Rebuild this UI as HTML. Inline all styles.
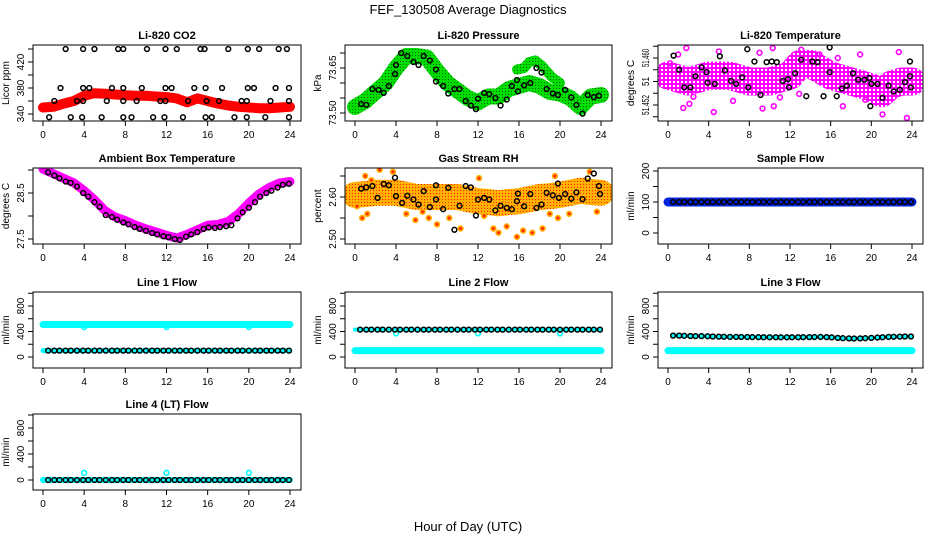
<!DOCTYPE html>
<html><head><meta charset="utf-8"><style>
body{margin:0;background:#fff;}
svg{display:block;font-family:"Liberation Sans",sans-serif;}
</style></head><body>
<svg id="chart" width="936" height="540" viewBox="0 0 936 540">
<defs>
<pattern id="pgreen" width="3" height="3" patternUnits="userSpaceOnUse"><rect width="3" height="3" fill="#00dd00"/><rect x="1" y="1" width="1" height="1" fill="#006600"/></pattern>
<pattern id="porange" width="3" height="3" patternUnits="userSpaceOnUse"><rect width="3" height="3" fill="#ffb000"/><rect x="1" y="1" width="1" height="1" fill="#ff2000"/></pattern>
<pattern id="pmag" width="4" height="4" patternUnits="userSpaceOnUse"><rect width="4" height="4" fill="#ff00ff"/><rect x="1" y="1" width="2" height="2" fill="#ffffff"/></pattern>
</defs>
<text x="468" y="14" text-anchor="middle" font-size="13">FEF_130508  Average Diagnostics</text>
<text x="468" y="531" text-anchor="middle" font-size="13">Hour of Day (UTC)</text>
</svg>
<script>
// ---- data ----
const xTicks = [0,4,8,12,16,20,24];
const co2Hours = [2.2,3.9,5.0,7.3,7.8,10.1,11.9,13.0,15.3,15.7,18.0,19.9,21.0,22.9,23.7,1.7,3.9,4.5,6.7,7.8,9.6,11.9,12.5,14.7,15.8,17.4,19.9,20.5,22.6,23.9,1.1,3.3,3.9,6.2,7.8,9.1,11.4,11.9,14.1,15.9,17.1,19.3,19.8,22.1,23.9,0.6,2.7,3.8,5.7,7.8,8.6,10.7,11.8,13.6,15.8,16.4,18.6,19.8,21.6,23.9];
const co2Values = [440,440,440,440,440,440,440,440,440,440,440,440,440,440,440,380,380,380,380,380,380,380,380,380,380,380,380,380,380,380,360,360,360,360,360,360,360,360,360,360,360,360,360,360,360,335,335,335,335,335,335,335,335,335,335,335,335,335,335,335];
const bandHours = [0,1,2,3,4,5,6,7,8,9,10,11,12,13,14,15,16,17,18,19,20,21,22,23,24];
const co2Band = [350,351,356,360,368,372,371,370,369,368,368,367,366,364,358,364,360,356,353,351,350,349,349,350,351];
const pressBand = [73.52,73.54,73.57,73.60,73.65,73.69,73.69,73.685,73.64,73.60,73.575,73.55,73.535,73.555,73.555,73.58,73.59,73.60,73.59,73.57,73.565,73.55,73.52,73.555,73.56];
const pressUpperHours = [15.8,16.5,17,17.6,18.3,19.2,20];
const pressUpper = [73.645,73.65,73.67,73.675,73.655,73.62,73.60];
const pressHours = [0.6,1.1,1.7,2.3,2.8,3.3,3.9,4.0,4.5,5.1,5.7,6.2,6.7,7.3,7.9,7.9,8.6,9.1,9.7,10.2,10.8,11.3,11.8,12.0,12.6,13.1,13.7,14.2,14.8,15.3,15.8,15.9,16.5,17.1,17.7,18.2,18.7,19.3,19.8,20.5,21.1,21.6,22.2,22.7,23.3,23.8];
const pressValues = [73.53,73.527,73.58,73.577,73.567,73.59,73.63,73.66,73.70,73.69,73.67,73.66,73.69,73.675,73.645,73.605,73.59,73.565,73.58,73.58,73.54,73.525,73.513,73.548,73.567,73.563,73.55,73.525,73.545,73.59,73.61,73.572,73.592,73.60,73.65,73.635,73.58,73.565,73.56,73.577,73.552,73.527,73.498,73.56,73.553,73.558];
const tempBand = [51.457,51.4565,51.456,51.4565,51.457,51.457,51.457,51.4565,51.456,51.456,51.456,51.4565,51.457,51.459,51.459,51.458,51.457,51.4565,51.456,51.4555,51.455,51.454,51.4555,51.456,51.456];
const tempHours = [0.55,1.1,1.6,2.2,2.7,3.3,3.8,3.9,4.6,5.1,5.6,6.2,6.7,7.3,7.8,7.9,8.5,9.1,9.7,10.2,10.7,11.3,11.8,11.9,12.5,13.1,13.6,14.2,14.7,15.3,15.9,15.9,16.6,17.1,17.6,18.2,18.7,19.3,19.8,19.9,20.0,20.6,21.1,21.7,22.2,22.8,23.3,23.8,23.8,23.9];
const tempValues = [51.4604,51.458,51.455,51.455,51.4569,51.4584,51.4576,51.4558,51.4556,51.4603,51.4579,51.4561,51.4556,51.4567,51.4615,51.455,51.4594,51.4537,51.4593,51.4594,51.4593,51.4561,51.4564,51.455,51.4574,51.4597,51.4535,51.4594,51.4593,51.4535,51.4618,51.4576,51.4535,51.4548,51.4553,51.4574,51.4563,51.4563,51.4566,51.4518,51.4556,51.4556,51.4532,51.4553,51.4543,51.4546,51.4559,51.4594,51.4569,51.455];
const tempOutHours = [1.8,1.5,2.1,4.5,5.0,9.3,10.4,10.3,11.0,17.2,18.9,21.1,22.7,23.5,13.1,16.7,0.2,1.0,2.5,6.4,12.9,19.4,14.9,9.0];
const tempOutValues = [51.4617,51.4515,51.4522,51.4508,51.4611,51.4514,51.4518,51.4617,51.4533,51.4518,51.4606,51.4504,51.461,51.4498,51.4614,51.46,51.4591,51.4606,51.4534,51.4527,51.4539,51.4529,51.4606,51.4609];
const blackHours = [0.5,1.1,1.6,2.2,2.7,3.3,3.9,4.4,5.0,5.5,6.1,6.7,7.2,7.8,8.3,8.9,9.4,10.0,10.6,11.1,11.7,12.2,12.8,13.3,13.9,14.4,15.0,15.6,16.1,16.7,17.2,17.8,18.3,18.9,19.4,20.0,20.6,21.1,21.7,22.2,22.8,23.3,23.9];
const ambValues = [28.95,28.88,28.82,28.75,28.72,28.64,28.5,28.42,28.3,28.2,28.02,27.98,27.92,27.86,27.82,27.76,27.72,27.68,27.63,27.6,27.56,27.54,27.5,27.48,27.55,27.6,27.65,27.72,27.75,27.74,27.76,27.78,27.8,27.95,28.08,28.18,28.3,28.42,28.5,28.55,28.62,28.68,28.7];
const ambBand = [29.02,28.92,28.82,28.72,28.55,28.35,28.12,27.98,27.9,27.8,27.72,27.65,27.58,27.52,27.6,27.7,27.8,27.82,27.88,28.05,28.28,28.48,28.62,28.72,28.75];
const rhBand = [2.605,2.607,2.61,2.61,2.61,2.605,2.6,2.6,2.6,2.6,2.6,2.595,2.59,2.588,2.585,2.588,2.59,2.595,2.6,2.602,2.605,2.61,2.615,2.612,2.61];
const rhHours = [0.6,1.1,1.7,2.2,2.8,3.3,3.9,4.0,4.6,5.1,5.7,6.2,6.7,7.3,7.9,7.9,8.6,9.1,9.7,10.2,10.8,11.3,11.8,12.0,12.6,13.1,13.7,14.2,14.8,15.3,15.8,15.9,16.5,17.1,17.7,18.2,18.7,19.3,19.8,19.9,20.5,21.1,21.6,22.2,22.7,23.3,23.8,23.9];
const rhValues = [2.62,2.623,2.626,2.598,2.631,2.628,2.646,2.602,2.586,2.603,2.594,2.582,2.614,2.576,2.628,2.594,2.571,2.622,2.522,2.579,2.626,2.623,2.556,2.594,2.598,2.594,2.568,2.579,2.574,2.571,2.59,2.608,2.578,2.607,2.574,2.582,2.61,2.604,2.632,2.598,2.607,2.596,2.611,2.595,2.644,2.656,2.626,2.607];
const rhOutHours = [0.2,0.7,1.2,1.6,2.4,3.7,5.0,5.9,6.6,7.2,8.0,9.2,10.3,12.6,13.5,14.0,14.8,15.8,16.4,17.3,18.3,19.0,19.8,20.9,22.9,23.6,19.5,12.1,1.0];
const rhOutValues = [2.578,2.55,2.56,2.64,2.665,2.66,2.56,2.545,2.565,2.55,2.535,2.55,2.525,2.555,2.525,2.515,2.53,2.505,2.52,2.515,2.525,2.56,2.55,2.56,2.66,2.565,2.65,2.645,2.65];
const sampleValue = [100,100];
const line1Main = [510,510];
const line1Low = [100,100];
const spikeHours = [4,12,20];
const line1Spikes = [470,470,470];
const line2Main = [430,430];
const line2Low = [100,100];
const line2Spikes = [370,370,370];
const line3Black = [335,335,332,330,328,327,325,322,320,318,316,315,314,313,312,311,310,310,310,309,309,310,310,311,312,313,315,312,308,300,295,292,290,292,295,300,305,310,315,318,320,322,322];
const line3Low = [100,100];
const line4Main = [0,0];
const line4Spikes = [110,110,110];
const flowEnds = [0,24];

// ---- layout ----
const svg = document.getElementById('chart');
const NS = 'http://www.w3.org/2000/svg';
const colL = [33,345,658], colW = [268,267,265];
const rowT = [45,168,292,414], rowH = 76;

function el(tag, attrs, parent){
  const e = document.createElementNS(NS, tag);
  for (const k in attrs) e.setAttribute(k, attrs[k]);
  (parent||svg).appendChild(e);
  return e;
}

function makePanel(c, r, name, title, ylab, va, ya, vb, yb, ticks, labels, lens){
  const g = el('g', {});
  
  
  const L = colL[c], W = colW[c], T = rowT[r];
  const x0 = L + 10, x1 = L + W - 11;
  const xs = h => x0 + (x1 - x0) * h / 24;
  const ys = v => ya + (yb - ya) * (v - va) / (vb - va);
  const clip = 'clip-' + name;
  const cp = el('clipPath', {id: clip}, g);
  el('rect', {x: L, y: T, width: W, height: rowH}, cp);
  const plot = el('g', {'clip-path': 'url(#' + clip + ')'}, g);
  
  
  const t = el('text', {x: L + W/2, y: T - 6, 'text-anchor': 'middle', 'font-size': 11, 'font-weight': 'bold'}, g);
  t.textContent = title;
  
  
  const box = el('rect', {x: L, y: T, width: W, height: rowH, fill: 'none', stroke: '#000', 'stroke-width': 1}, g);
  
  
  xTicks.forEach(h => {
    el('line', {x1: xs(h), x2: xs(h), y1: T + rowH, y2: T + rowH + 5, stroke: '#000'}, g);
    const tl = el('text', {x: xs(h), y: T + rowH + 17, 'text-anchor': 'middle', 'font-size': 10}, g);
    tl.textContent = h;
    
    
  });
  ticks.forEach((v, i) => {
    const y = ys(v);
    el('line', {x1: L - 5, x2: L, y1: y, y2: y, stroke: '#000'}, g);
    if (labels[i]) {
      const at = {x: L - 9, y: y, 'text-anchor': 'middle', 'font-size': 10, transform: 'rotate(-90 ' + (L - 9) + ' ' + y + ')'};
      if (lens && lens[i]) { at.textLength = lens[i]; at.lengthAdjust = 'spacingAndGlyphs'; }
      const yl = el('text', at, g);
      yl.textContent = labels[i];
      
      
    }
  });
  const yt = el('text', {x: L - 24, y: T + rowH/2, 'text-anchor': 'middle', 'font-size': 10, transform: 'rotate(-90 ' + (L - 24) + ' ' + (T + rowH/2) + ')'}, g);
  yt.textContent = ylab;
  
  
  return {xs, ys, plot};
}

function band(p, hours, vals, stroke, width, name){
  const pts = hours.map((h, i) => p.xs(h).toFixed(1) + ',' + p.ys(vals[i]).toFixed(1)).join(' ');
  const pl = el('polyline', {points: pts, fill: 'none', stroke: stroke, 'stroke-width': width, 'stroke-linejoin': 'round', 'stroke-linecap': 'round'}, p.plot);
  
  
}
function dots(p, hours, vals, stroke, r, sw, name, fill){
  hours.forEach((h, i) => {
    const c = el('circle', {cx: p.xs(h), cy: p.ys(vals[i]), r: r, fill: fill || 'none', stroke: stroke, 'stroke-width': sw}, p.plot);
    
    
  });
}
const ones = n => blackHours.map(() => n);

// Li-820 CO2
let p = makePanel(0, 0, 'co2', 'Li-820 CO2', 'Licor ppm', 340, 114, 380, 88, [340,360,380,400,420,440], ['340','','380','','420','']);
band(p, bandHours, co2Band, '#ff0000', 10, 'co2-band');
dots(p, co2Hours, co2Values, '#000', 2.4, 1.5, 'co2-point');

// Li-820 Pressure
p = makePanel(1, 0, 'pressure', 'Li-820 Pressure', 'kPa', 73.50, 113, 73.65, 68, [73.50,73.55,73.60,73.65,73.70], ['73.50','','','73.65','']);
band(p, bandHours, pressBand, 'url(#pgreen)', 16, 'pressure-band');
band(p, pressUpperHours, pressUpper, 'url(#pgreen)', 10, 'pressure-upper-band');
dots(p, pressHours, pressValues, '#000', 2.4, 1.5, 'pressure-point');

// Li-820 Temperature
p = makePanel(2, 0, 'temperature', 'Li-820 Temperature', 'degrees C', 51.452, 105, 51.460, 58, [51.450,51.452,51.454,51.456,51.458,51.460,51.462], ['','51.452','','51','','51.460',''], [0,20,0,9,0,18,0]);
band(p, bandHours, tempBand, 'url(#pmag)', 28, 'temperature-band');
dots(p, tempOutHours, tempOutValues, '#ff00ff', 2.4, 1.6, 'temperature-outlier');
dots(p, tempHours, tempValues, '#000', 2.4, 1.5, 'temperature-point');

// Ambient Box Temperature
p = makePanel(0, 1, 'ambient', 'Ambient Box Temperature', 'degrees C', 27.5, 239, 28.5, 193, [27.5,28.0,28.5,29.0], ['27.5','','28.5','']);
band(p, bandHours, ambBand, '#ff00ff', 9, 'ambient-band');
dots(p, blackHours, ambValues, '#000', 2.4, 1.5, 'ambient-point');

// Gas Stream RH
p = makePanel(1, 1, 'rh', 'Gas Stream RH', 'percent', 2.50, 239, 2.60, 197, [2.50,2.55,2.60,2.65], ['2.50','','2.60','']);
band(p, bandHours, rhBand, 'url(#porange)', 26, 'rh-band');
dots(p, rhOutHours, rhOutValues, '#ffb000', 2.4, 1.6, 'rh-outlier', '#ff3000');
dots(p, rhHours, rhValues, '#000', 2.4, 1.5, 'rh-point');

// Sample Flow
p = makePanel(2, 1, 'sample-flow', 'Sample Flow', 'ml/min', 0, 233, 200, 171, [0,50,100,150,200], ['0','','100','','200']);
band(p, flowEnds, sampleValue, '#0022dd', 9, 'sample-flow-band');
dots(p, blackHours, ones(100), '#000', 2.4, 1.5, 'sample-flow-point');

// Line 1 Flow
const fT = [0,200,400,600,800,1000], fL = ['0','','400','','800',''];
p = makePanel(0, 2, 'line1', 'Line 1 Flow', 'ml/min', 0, 357, 800, 306, fT, fL);
band(p, flowEnds, line1Main, '#00ffff', 7, 'line1-main');
band(p, flowEnds, line1Low, '#00ffff', 5, 'line1-low');
dots(p, spikeHours, line1Spikes, '#00ffff', 2.4, 1.6, 'line1-spike');
dots(p, blackHours, ones(100), '#000', 2.4, 1.5, 'line1-point');

// Line 2 Flow
p = makePanel(1, 2, 'line2', 'Line 2 Flow', 'ml/min', 0, 357, 800, 306, fT, fL);
band(p, flowEnds, line2Low, '#00ffff', 7, 'line2-low');
band(p, flowEnds, line2Main, '#00ffff', 4, 'line2-main');
dots(p, spikeHours, line2Spikes, '#00ffff', 2.4, 1.6, 'line2-spike');
dots(p, blackHours, ones(430), '#000', 2.4, 1.5, 'line2-point');

// Line 3 Flow
p = makePanel(2, 2, 'line3', 'Line 3 Flow', 'ml/min', 0, 357, 800, 306, fT, fL);
band(p, flowEnds, line3Low, '#00ffff', 7, 'line3-low');
band(p, blackHours, line3Black, '#00ffff', 4, 'line3-main');
dots(p, blackHours, line3Black, '#000', 2.4, 1.5, 'line3-point');

// Line 4 (LT) Flow
p = makePanel(0, 3, 'line4', 'Line 4 (LT) Flow', 'ml/min', 0, 480, 800, 428, fT, fL);
band(p, flowEnds, line4Main, '#00ffff', 6, 'line4-main');
dots(p, spikeHours, line4Spikes, '#00ffff', 2.4, 1.6, 'line4-spike');
dots(p, blackHours, ones(0), '#000', 2.4, 1.5, 'line4-point');
</script>
</body></html>
